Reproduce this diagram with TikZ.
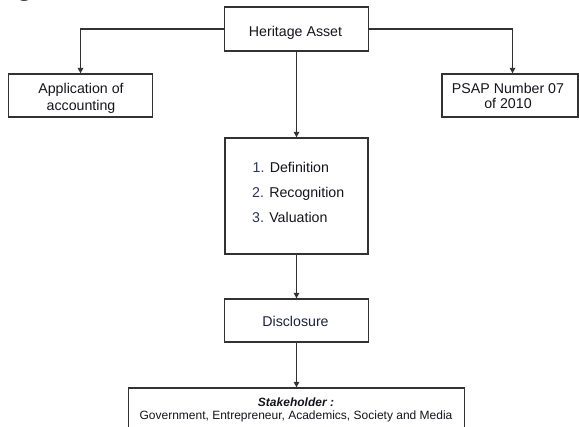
\documentclass[tikz,border=0pt]{standalone}
\usepackage{fontspec}
\setmainfont{Liberation Sans}
\newfontfamily\capserif{Liberation Serif}
\usetikzlibrary{arrows.meta}
\definecolor{linec}{RGB}{50,50,50}
\definecolor{txtc}{RGB}{20,20,28}
\definecolor{numc}{RGB}{45,52,85}
\definecolor{disctc}{RGB}{30,34,58}
\begin{document}
\begin{tikzpicture}[x=1pt,y=-1pt,
  box/.style={draw=linec,line width=1.3pt,inner sep=0pt},
  txt/.style={anchor=base,inner sep=0pt,text=txtc,font=\fontsize{14.2}{16}\selectfont},
  smalltxt/.style={anchor=base,inner sep=0pt,text=txtc,font=\fontsize{12}{13}\selectfont},
  listtxt/.style={anchor=base west,inner sep=0pt,text=txtc,font=\fontsize{14.2}{16}\selectfont},
  conn/.style={draw=linec,line width=1.3pt,-{Triangle[length=5.5pt,width=5.5pt]}}]
\useasboundingbox (0,0) rectangle (579,427);
% clipped caption fragment
\node[anchor=base west,inner sep=0pt,font=\capserif\bfseries\fontsize{26}{26}\selectfont] (gfrag) at (18,-4) {g};
% boxes
\node[box,minimum width=144pt,minimum height=44pt] (her) at (296.5,29) {};
\node[box,minimum width=144pt,minimum height=43pt] (app) at (80.5,95.5) {};
\node[box,minimum width=136pt,minimum height=43pt] (psap) at (510,95.5) {};
\node[box,minimum width=143pt,minimum height=116pt] (list) at (296.5,196) {};
\node[box,minimum width=144pt,minimum height=43pt] (disc) at (296.5,320.5) {};
\node[box,minimum width=336pt,minimum height=50pt] (stake) at (296.5,413) {};
% texts
\node[txt] (hert) at (295.5,36.7) {Heritage Asset};
\node[txt] (appt1) at (81,93.7) {Application of};
\node[txt] (appt2) at (81,110.3) {accounting};
\node[txt] (psapt1) at (508,93.5) {PSAP Number 07};
\node[txt] (psapt2) at (508,109) {of 2010};
\node[listtxt] (l1) at (252.5,172.7) {\textcolor{numc}{1.} Definition};
\node[listtxt] (l2) at (252,197.7) {\textcolor{numc}{2.} Recognition};
\node[listtxt] (l3) at (252,222.7) {\textcolor{numc}{3.} Valuation};
\node[txt,text=disctc] (disct) at (295.5,326.7) {Disclosure};
\node[smalltxt,font=\fontsize{12}{13}\selectfont\bfseries\itshape] (stt1) at (296,406.7) {Stakeholder :};
\node[smalltxt] (stt2) at (296,419.3) {Government, Entrepreneur, Academics, Society and Media};
% connectors
\draw[conn] (her.west) -| (app.north);
\draw[conn] (her.east) -| ([xshift=2.5pt]psap.north);
\draw[conn] (her.south) -- (list.north);
\draw[conn] (list.south) -- (disc.north);
\draw[conn] (disc.south) -- (stake.north);
\end{tikzpicture}
\end{document}
